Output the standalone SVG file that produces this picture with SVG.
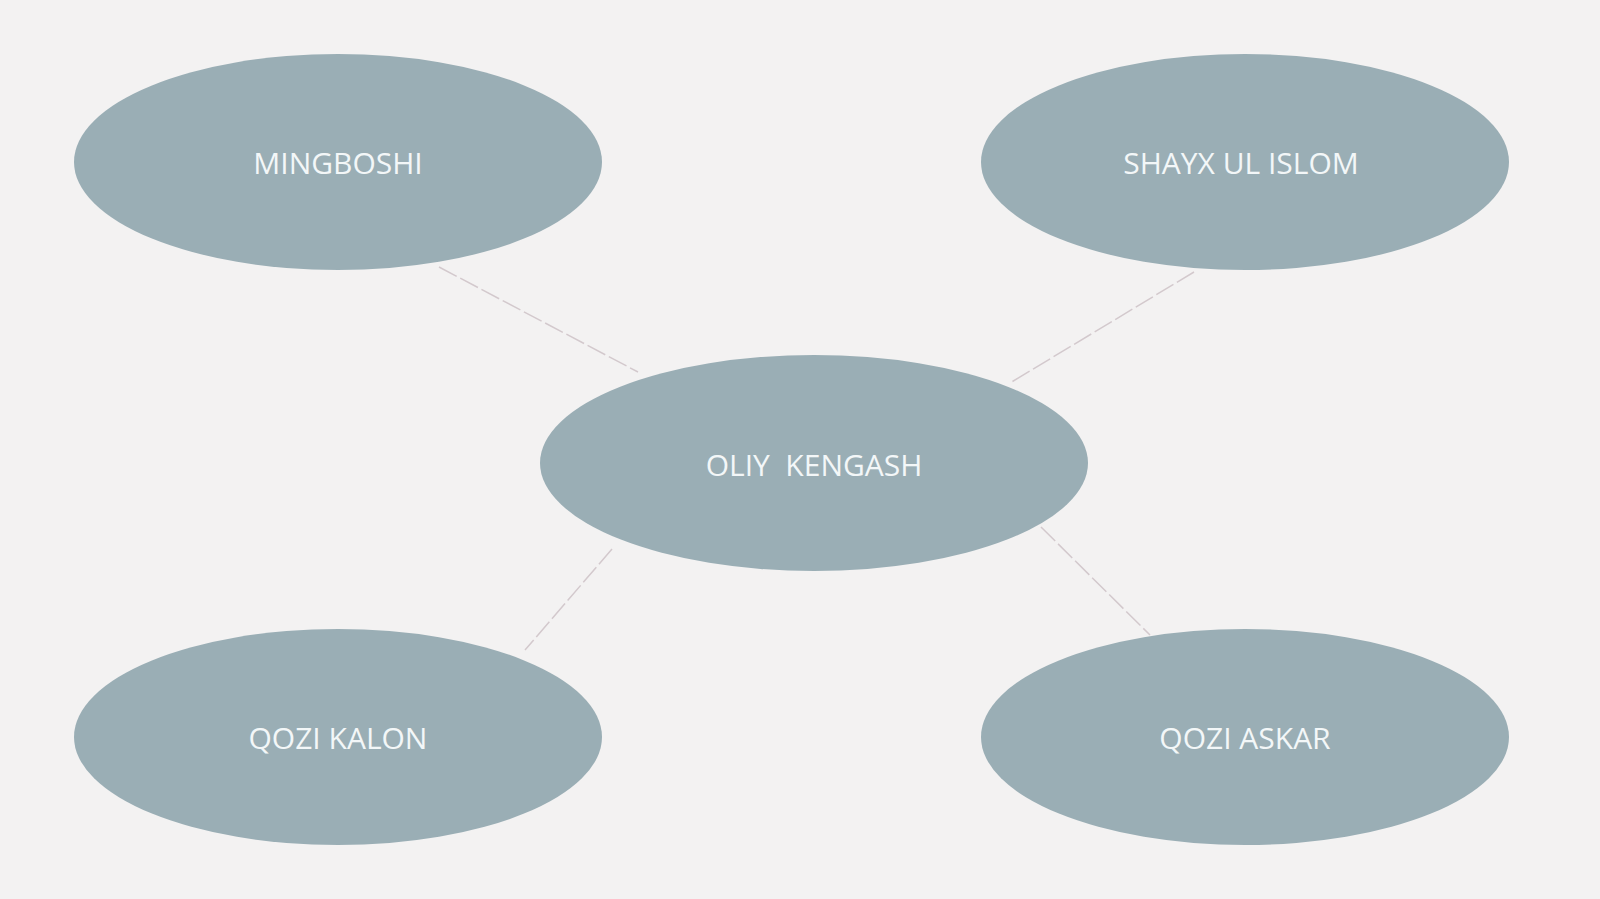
<svg xmlns="http://www.w3.org/2000/svg" width="1600" height="899" viewBox="0 0 1600 899">
<style>
.node ellipse{fill:#9aaeb5}
.node text{font-family:"Open Sans","Noto Sans","Liberation Sans",sans-serif;font-size:30px;fill:#f3f7f8;text-anchor:middle}
.conn line{stroke:#d3c9cd;stroke-width:1.5;stroke-dasharray:20 4}
</style>
<rect width="1600" height="899" fill="#f3f2f2"/>
<g id="connectors" class="conn">
<line x1="439" y1="267" x2="638" y2="372"/>
<line x1="1194" y1="272" x2="1010" y2="383"/>
<line x1="612" y1="549" x2="525" y2="650"/>
<line x1="1041" y1="527" x2="1150" y2="635"/>
</g>
<g id="mingboshi" class="node">
<ellipse cx="338" cy="162" rx="264" ry="108"/>
<text x="338" y="174">MINGBOSHI</text>
</g>
<g id="shayx-ul-islom" class="node">
<ellipse cx="1245" cy="162" rx="264" ry="108"/>
<text x="1241" y="174">SHAYX UL ISLOM</text>
</g>
<g id="oliy-kengash" class="node">
<ellipse cx="814" cy="463" rx="274" ry="108"/>
<text x="814" y="476" xml:space="preserve">OLIY  KENGASH</text>
</g>
<g id="qozi-kalon" class="node">
<ellipse cx="338" cy="737" rx="264" ry="108"/>
<text x="338" y="749">QOZI KALON</text>
</g>
<g id="qozi-askar" class="node">
<ellipse cx="1245" cy="737" rx="264" ry="108"/>
<text x="1245" y="749">QOZI ASKAR</text>
</g>
</svg>
